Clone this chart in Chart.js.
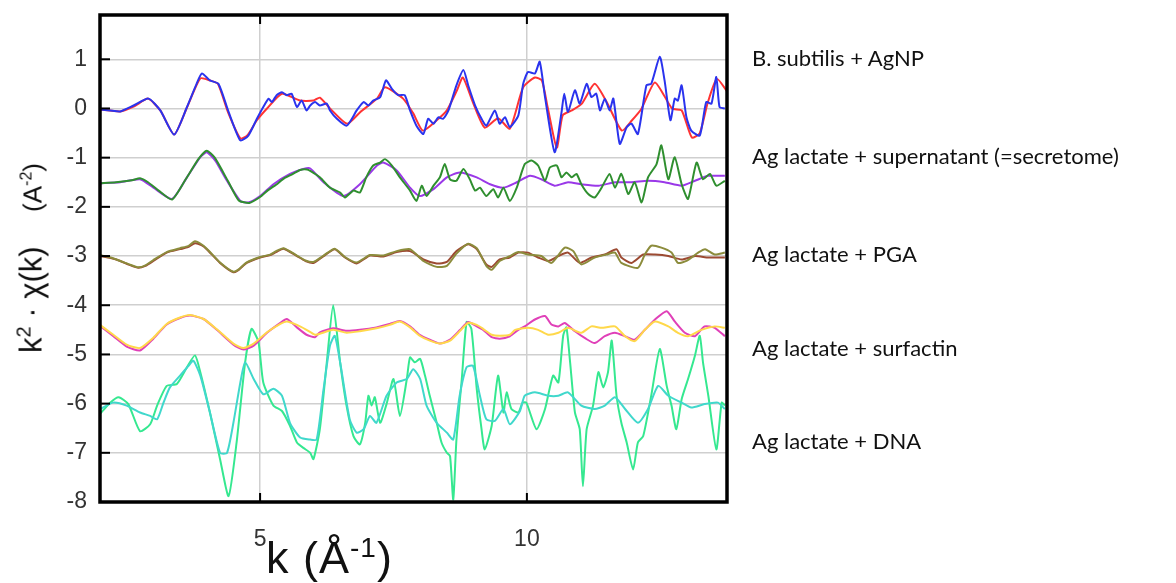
<!DOCTYPE html>
<html>
<head>
<meta charset="utf-8">
<script src="https://cdn.jsdelivr.net/npm/chart.js@4"></script>
<style>
  html, body { margin: 0; padding: 0; background: #fff; }
  #wrap { position: relative; width: 1176px; height: 583px; overflow: hidden; }
  #chart { position: absolute; left: 0; top: 0; }
  .lbl { position: absolute; left: 752px; transform: translateY(-50%); font-family: Lato, "Noto Sans", sans-serif; font-size: 22px; color: #111; white-space: nowrap; }
  .axis { position: absolute; font-family: "Liberation Sans", Arial, sans-serif; color: #111; white-space: nowrap; line-height: 1; }
  sup { line-height: 0; }
</style>
</head>
<body>
<div id="wrap">
  <canvas id="chart" width="1176" height="583"></canvas>
  <div id="labels"></div>
  <div class="axis" id="xTitle" style="left:266px; top:535px; font-size:45px; letter-spacing:1px;">k (Å<sup style="font-size:28px;">-1</sup>)</div>
  <div class="axis" id="yTitle" style="left:31px; top:258px; transform: translate(-50%, -50%) rotate(-90deg); font-size:31px;">k<sup style="font-size:20px;">2</sup> · χ(k)&nbsp;&nbsp;&nbsp;&nbsp;<span style="font-size:26px;">(A<sup style="font-size:16px;">-2</sup>)</span></div>
</div>
<script>
// axis ranges and ticks
const xMin = 2.0, xMax = 13.75;
const yMin = -8, yMax = 1.9;
const xTicks = [5, 10];
const yTicks = [-8, -7, -6, -5, -4, -3, -2, -1, 0, 1];

// sample names, top to bottom
const sampleLabels = [
    'B. subtilis + AgNP',
    'Ag lactate + supernatant (=secretome)',
    'Ag lactate + PGA',
    'Ag lactate + surfactin',
    'Ag lactate + DNA'
];
const labelY = [57, 155, 253, 347, 440];

// B. subtilis + AgNP: data (blue) and fit (red)
const agnpData = [[2.0,-0.02],[2.19,-0.04],[2.38,-0.06],[2.63,0.06],[2.91,0.2],[3.13,-0.04],[3.39,-0.53],[3.63,0.03],[3.81,0.5],[3.91,0.71],[4.06,0.57],[4.22,0.5],[4.41,-0.07],[4.63,-0.65],[4.78,-0.55],[4.94,-0.21],[5.06,0.03],[5.16,0.2],[5.22,0.13],[5.31,0.27],[5.41,0.33],[5.5,0.27],[5.59,0.3],[5.69,0.03],[5.78,0.16],[5.87,-0.04],[5.94,0.06],[6.03,0.13],[6.12,0.06],[6.25,0.1],[6.31,-0.04],[6.44,-0.21],[6.62,-0.35],[6.72,-0.21],[6.81,-0.04],[6.94,0.13],[7.03,0.06],[7.12,0.16],[7.25,0.23],[7.36,0.57],[7.47,0.4],[7.59,0.27],[7.71,0.27],[7.81,-0.04],[7.93,-0.35],[8.06,-0.52],[8.15,-0.21],[8.25,-0.31],[8.34,-0.18],[8.43,-0.21],[8.53,-0.04],[8.68,0.47],[8.81,0.78],[8.9,0.47],[9.03,0.06],[9.15,-0.21],[9.24,-0.35],[9.4,-0.04],[9.49,-0.31],[9.59,-0.18],[9.68,-0.38],[9.84,-0.14],[9.93,0.5],[10.02,0.74],[10.15,0.71],[10.24,0.95],[10.34,0.23],[10.52,-0.89],[10.65,-0.07],[10.7,0.3],[10.77,-0.07],[10.9,0.37],[10.99,0.1],[11.12,0.5],[11.21,0.23],[11.3,0.3],[11.37,-0.04],[11.46,0.2],[11.55,-0.04],[11.62,0.2],[11.74,-0.72],[11.87,-0.38],[11.96,-0.31],[12.08,-0.52],[12.24,0.47],[12.33,0.5],[12.49,1.05],[12.58,0.57],[12.69,-0.24],[12.77,0.2],[12.83,0.16],[12.9,0.47],[12.99,-0.18],[13.08,-0.45],[13.24,-0.55],[13.36,0.13],[13.46,0.1],[13.55,0.64],[13.61,0.03],[13.71,0.0]];
const agnpFit = [[2.0,-0.02],[2.38,-0.06],[2.65,0.05],[2.9,0.2],[3.13,-0.04],[3.39,-0.53],[3.63,0.02],[3.88,0.61],[4.06,0.57],[4.21,0.5],[4.4,-0.08],[4.63,-0.61],[4.76,-0.55],[4.94,-0.24],[5.13,0.0],[5.41,0.3],[5.75,0.16],[6.0,0.16],[6.12,0.22],[6.31,0.0],[6.63,-0.31],[6.87,-0.08],[7.19,0.2],[7.34,0.43],[7.68,0.2],[7.87,-0.1],[8.05,-0.45],[8.31,-0.24],[8.5,-0.04],[8.69,0.37],[8.8,0.63],[8.99,0.12],[9.21,-0.39],[9.46,-0.2],[9.68,-0.41],[9.93,0.43],[10.15,0.63],[10.28,0.57],[10.39,0.02],[10.56,-0.8],[10.67,-0.14],[10.84,-0.04],[11.03,0.1],[11.27,0.5],[11.5,0.12],[11.78,-0.45],[11.97,-0.24],[12.15,0.0],[12.4,0.53],[12.72,0.0],[12.9,-0.04],[13.09,-0.59],[13.24,-0.5],[13.39,0.12],[13.56,0.6],[13.75,0.35]];

// Ag lactate + supernatant: data (green) and fit (purple)
const secrData = [[2.0,-1.52],[2.3,-1.5],[2.6,-1.46],[2.75,-1.42],[2.9,-1.5],[3.1,-1.67],[3.35,-1.85],[3.6,-1.45],[3.85,-1.02],[4.0,-0.86],[4.15,-1.0],[4.4,-1.48],[4.6,-1.87],[4.8,-1.92],[5.0,-1.8],[5.15,-1.66],[5.3,-1.55],[5.45,-1.42],[5.6,-1.34],[5.75,-1.25],[5.88,-1.24],[5.94,-1.27],[6.12,-1.4],[6.31,-1.61],[6.5,-1.71],[6.59,-1.81],[6.75,-1.67],[6.87,-1.71],[6.99,-1.4],[7.12,-1.16],[7.25,-1.1],[7.34,-1.03],[7.47,-1.16],[7.62,-1.4],[7.81,-1.67],[7.93,-1.88],[8.03,-1.57],[8.12,-1.78],[8.25,-1.57],[8.37,-1.4],[8.46,-1.13],[8.56,-1.44],[8.68,-1.47],[8.81,-1.23],[8.93,-1.44],[9.03,-1.67],[9.12,-1.61],[9.24,-1.78],[9.37,-1.64],[9.46,-1.81],[9.56,-1.61],[9.68,-1.88],[9.81,-1.61],[9.96,-1.13],[10.09,-1.06],[10.21,-1.16],[10.34,-1.47],[10.43,-1.2],[10.56,-1.16],[10.65,-1.4],[10.74,-1.3],[10.84,-1.4],[10.93,-1.33],[11.02,-1.54],[11.15,-1.74],[11.27,-1.81],[11.4,-1.61],[11.55,-1.33],[11.65,-1.61],[11.77,-1.33],[11.9,-1.74],[12.02,-1.5],[12.15,-1.91],[12.27,-1.4],[12.43,-1.13],[12.52,-0.75],[12.65,-1.44],[12.77,-0.99],[12.9,-1.54],[13.02,-1.84],[13.18,-1.1],[13.3,-1.44],[13.43,-1.33],[13.55,-1.57],[13.71,-1.47]];
const secrFit = [[2.0,-1.52],[2.38,-1.5],[2.75,-1.44],[3.0,-1.61],[3.35,-1.84],[3.63,-1.4],[3.88,-0.99],[4.0,-0.89],[4.16,-1.06],[4.38,-1.47],[4.63,-1.88],[4.78,-1.91],[5.0,-1.78],[5.25,-1.54],[5.56,-1.33],[5.81,-1.23],[5.94,-1.22],[6.19,-1.5],[6.56,-1.78],[6.87,-1.54],[7.19,-1.16],[7.31,-1.1],[7.56,-1.26],[7.81,-1.61],[7.99,-1.78],[8.25,-1.64],[8.5,-1.4],[8.74,-1.3],[9.06,-1.4],[9.31,-1.54],[9.56,-1.61],[9.81,-1.5],[10.06,-1.37],[10.27,-1.44],[10.52,-1.57],[10.77,-1.5],[11.02,-1.54],[11.34,-1.57],[11.65,-1.5],[11.96,-1.5],[12.27,-1.47],[12.58,-1.5],[12.9,-1.57],[13.15,-1.47],[13.4,-1.37],[13.71,-1.37]];

// Ag lactate + PGA: data (olive) and fit (brown)
const pgaData = [[2.0,-2.98],[2.2,-3.03],[2.38,-3.1],[2.55,-3.17],[2.72,-3.23],[2.85,-3.19],[3.0,-3.08],[3.25,-2.92],[3.5,-2.84],[3.65,-2.8],[3.78,-2.7],[3.9,-2.76],[4.0,-2.85],[4.25,-3.13],[4.5,-3.32],[4.6,-3.27],[4.75,-3.13],[5.0,-3.02],[5.19,-2.97],[5.3,-2.9],[5.44,-2.84],[5.69,-2.99],[5.85,-3.09],[6.0,-3.12],[6.19,-2.99],[6.4,-2.85],[6.59,-3.02],[6.81,-3.13],[7.06,-2.98],[7.31,-2.99],[7.56,-2.9],[7.81,-2.86],[8.06,-3.1],[8.31,-3.22],[8.5,-3.2],[8.68,-2.95],[8.9,-2.75],[9.06,-2.84],[9.24,-3.2],[9.34,-3.28],[9.49,-3.1],[9.68,-3.0],[9.84,-2.92],[10.02,-2.97],[10.27,-3.0],[10.46,-3.14],[10.71,-2.83],[10.87,-2.9],[11.02,-3.17],[11.27,-3.03],[11.49,-2.97],[11.65,-2.93],[11.77,-3.14],[12.08,-3.24],[12.21,-2.97],[12.33,-2.79],[12.52,-2.83],[12.71,-2.93],[12.83,-3.14],[12.99,-3.1],[13.21,-2.93],[13.34,-2.86],[13.52,-2.97],[13.71,-2.93]];
const pgaFit = [[2.0,-3.0],[2.2,-3.04],[2.38,-3.1],[2.55,-3.18],[2.72,-3.24],[2.85,-3.2],[3.0,-3.1],[3.25,-2.93],[3.5,-2.86],[3.65,-2.82],[3.78,-2.74],[3.9,-2.78],[4.0,-2.86],[4.25,-3.14],[4.5,-3.33],[4.6,-3.28],[4.75,-3.14],[5.0,-3.03],[5.19,-2.98],[5.3,-2.92],[5.44,-2.85],[5.69,-3.0],[5.85,-3.1],[6.0,-3.14],[6.19,-3.0],[6.4,-2.86],[6.59,-3.03],[6.81,-3.15],[7.06,-2.99],[7.31,-3.01],[7.56,-2.92],[7.81,-2.9],[8.06,-3.07],[8.31,-3.15],[8.5,-3.12],[8.68,-2.9],[8.9,-2.76],[9.06,-2.86],[9.24,-3.17],[9.34,-3.22],[9.49,-3.07],[9.68,-3.03],[9.84,-2.93],[10.02,-2.93],[10.21,-3.03],[10.4,-3.1],[10.59,-3.0],[10.77,-2.93],[10.99,-3.14],[11.21,-3.03],[11.46,-2.97],[11.68,-2.86],[11.77,-3.03],[11.96,-3.14],[12.18,-2.97],[12.4,-2.97],[12.65,-3.0],[12.9,-3.07],[13.15,-3.0],[13.4,-3.03],[13.71,-3.03]];

// Ag lactate + surfactin: data (magenta) and fit (yellow)
const surfData = [[2.0,-4.42],[2.25,-4.63],[2.5,-4.84],[2.75,-4.92],[3.0,-4.68],[3.25,-4.39],[3.5,-4.26],[3.69,-4.21],[3.94,-4.28],[4.19,-4.5],[4.5,-4.8],[4.69,-4.9],[4.88,-4.82],[5.13,-4.56],[5.38,-4.36],[5.5,-4.28],[5.69,-4.45],[5.87,-4.6],[6.03,-4.65],[6.12,-4.55],[6.37,-4.47],[6.62,-4.52],[6.87,-4.5],[7.18,-4.45],[7.43,-4.38],[7.62,-4.32],[7.81,-4.43],[7.99,-4.6],[8.18,-4.7],[8.37,-4.78],[8.56,-4.7],[8.75,-4.5],[8.9,-4.34],[9.06,-4.43],[9.18,-4.5],[9.34,-4.65],[9.49,-4.68],[9.68,-4.63],[9.84,-4.5],[9.96,-4.43],[10.15,-4.29],[10.34,-4.22],[10.46,-4.39],[10.59,-4.43],[10.71,-4.36],[10.9,-4.53],[11.09,-4.67],[11.27,-4.77],[11.46,-4.63],[11.65,-4.56],[11.84,-4.63],[12.02,-4.7],[12.21,-4.5],[12.4,-4.29],[12.62,-4.12],[12.77,-4.33],[12.96,-4.56],[13.15,-4.63],[13.33,-4.43],[13.52,-4.46],[13.71,-4.63]];
const surfFit = [[2.0,-4.4],[2.25,-4.6],[2.5,-4.8],[2.75,-4.87],[3.0,-4.66],[3.25,-4.38],[3.5,-4.25],[3.69,-4.2],[3.94,-4.28],[4.19,-4.49],[4.5,-4.78],[4.69,-4.87],[4.88,-4.78],[5.13,-4.55],[5.38,-4.38],[5.5,-4.33],[5.69,-4.4],[5.87,-4.5],[6.03,-4.6],[6.12,-4.58],[6.37,-4.5],[6.62,-4.56],[6.87,-4.53],[7.18,-4.47],[7.43,-4.4],[7.62,-4.33],[7.81,-4.45],[7.99,-4.62],[8.18,-4.72],[8.37,-4.78],[8.56,-4.72],[8.75,-4.52],[8.9,-4.36],[9.06,-4.4],[9.18,-4.48],[9.34,-4.6],[9.49,-4.62],[9.68,-4.6],[9.78,-4.5],[10.02,-4.46],[10.21,-4.5],[10.4,-4.6],[10.59,-4.56],[10.77,-4.46],[11.02,-4.56],[11.21,-4.43],[11.4,-4.46],[11.65,-4.43],[11.84,-4.63],[12.02,-4.73],[12.21,-4.5],[12.4,-4.33],[12.65,-4.43],[12.83,-4.56],[13.02,-4.63],[13.27,-4.5],[13.52,-4.43],[13.71,-4.46]];

// Ag lactate + DNA: data (spring green) and fit (turquoise)
const dnaData = [[2.0,-6.21],[2.19,-5.98],[2.35,-5.87],[2.53,-6.01],[2.75,-6.56],[2.94,-6.42],[3.07,-6.04],[3.25,-5.64],[3.44,-5.6],[3.63,-5.26],[3.78,-5.02],[3.88,-5.36],[4.06,-6.18],[4.25,-7.13],[4.41,-7.88],[4.56,-6.79],[4.72,-5.16],[4.84,-4.48],[4.97,-4.75],[5.06,-5.57],[5.25,-6.04],[5.41,-6.15],[5.56,-6.45],[5.69,-6.79],[5.81,-6.9],[5.94,-7.0],[6.0,-7.13],[6.12,-6.52],[6.25,-5.16],[6.37,-4.0],[6.5,-5.16],[6.62,-6.04],[6.75,-6.66],[6.87,-6.83],[6.97,-6.39],[7.03,-5.84],[7.09,-6.04],[7.15,-5.87],[7.25,-6.39],[7.37,-6.01],[7.5,-5.5],[7.62,-6.25],[7.75,-5.5],[7.81,-5.06],[7.9,-5.16],[8.0,-5.09],[8.09,-5.43],[8.18,-5.84],[8.31,-6.39],[8.4,-6.79],[8.5,-7.0],[8.56,-7.07],[8.62,-7.95],[8.68,-6.73],[8.78,-5.5],[8.87,-4.34],[8.96,-4.48],[9.06,-5.7],[9.15,-6.52],[9.21,-6.93],[9.34,-6.45],[9.46,-5.43],[9.56,-6.18],[9.62,-5.77],[9.71,-6.11],[9.84,-6.18],[9.92,-5.98],[9.99,-5.98],[10.18,-6.52],[10.34,-6.11],[10.49,-5.43],[10.59,-5.57],[10.68,-4.62],[10.74,-4.45],[10.81,-5.16],[10.9,-6.18],[10.99,-6.52],[11.05,-7.68],[11.12,-6.52],[11.24,-6.04],[11.34,-5.36],[11.43,-5.67],[11.52,-5.36],[11.59,-4.72],[11.68,-5.84],[11.77,-6.39],[11.87,-6.79],[11.99,-7.34],[12.08,-6.79],[12.18,-6.66],[12.33,-5.84],[12.49,-4.89],[12.62,-5.64],[12.71,-6.04],[12.8,-6.52],[12.9,-5.91],[13.02,-5.5],[13.15,-5.02],[13.24,-4.62],[13.3,-5.16],[13.4,-5.84],[13.55,-6.93],[13.65,-5.98],[13.71,-6.04]];
const dnaFit = [[2.0,-6.11],[2.25,-5.98],[2.5,-6.04],[2.75,-6.18],[2.94,-6.25],[3.07,-6.32],[3.19,-5.98],[3.31,-5.67],[3.5,-5.43],[3.66,-5.23],[3.75,-5.13],[3.88,-5.43],[4.06,-6.18],[4.25,-7.0],[4.38,-7.0],[4.5,-6.39],[4.63,-5.57],[4.72,-5.16],[4.88,-5.5],[5.06,-5.81],[5.25,-5.7],[5.41,-5.84],[5.56,-6.39],[5.75,-6.69],[5.94,-6.73],[6.06,-6.73],[6.19,-5.7],[6.31,-4.82],[6.4,-4.62],[6.5,-5.16],[6.68,-6.32],[6.81,-6.59],[6.94,-6.52],[7.06,-6.25],[7.18,-6.39],[7.37,-5.84],[7.56,-5.57],[7.75,-5.5],[7.87,-5.3],[8.0,-5.5],[8.12,-6.04],[8.31,-6.39],[8.5,-6.59],[8.62,-6.73],[8.74,-5.84],[8.87,-5.26],[8.99,-5.23],[9.12,-5.84],[9.24,-6.32],[9.4,-6.35],[9.56,-6.11],[9.68,-6.42],[9.87,-6.15],[9.96,-5.84],[10.15,-5.77],[10.4,-5.84],[10.59,-5.84],[10.77,-5.77],[11.02,-6.04],[11.27,-6.11],[11.46,-6.04],[11.65,-5.87],[11.84,-6.11],[12.08,-6.39],[12.27,-6.11],[12.46,-5.64],[12.65,-5.84],[12.9,-5.98],[13.08,-6.08],[13.33,-6.01],[13.58,-5.98],[13.71,-6.11]];

function toPoints(pairs) {
    return pairs.map(p => ({ x: p[0], y: p[1] }));
}

function line(pairs, color) {
    return {
        data: toPoints(pairs),
        borderColor: color,
        borderWidth: 2,
        pointRadius: 0,
        tension: 0.2,
        fill: false
    };
}

const datasets = [
    line(agnpData, '#2a33ee'),
    line(agnpFit, '#ff3333'),
    line(secrData, '#2f8f2f'),
    line(secrFit, '#9a38e8'),
    line(pgaData, '#8c8c3c'),
    line(pgaFit, '#9c4a32'),
    line(surfFit, '#ffd84a'),
    line(surfData, '#e040b8'),
    line(dnaFit, '#40d8cc'),
    line(dnaData, '#35e890')
];

// thick frame and inner tick marks
const framePlugin = {
    id: 'frame',
    afterDraw(chart) {
        const { ctx, chartArea: a, scales } = chart;
        ctx.save();
        ctx.strokeStyle = '#000';
        ctx.lineWidth = 2;
        yTicks.forEach(v => {
            const y = scales.y.getPixelForValue(v);
            ctx.beginPath();
            ctx.moveTo(a.left, y);
            ctx.lineTo(a.left + 10, y);
            ctx.stroke();
        });
        xTicks.forEach(v => {
            const x = scales.x.getPixelForValue(v);
            ctx.beginPath();
            ctx.moveTo(x, a.bottom);
            ctx.lineTo(x, a.bottom - 9);
            ctx.moveTo(x, a.top);
            ctx.lineTo(x, a.top + 9);
            ctx.stroke();
        });
        ctx.lineWidth = 3.5;
        ctx.strokeRect(a.left, a.top, a.right - a.left, a.bottom - a.top);
        ctx.restore();
    }
};

const tickFont = { family: '"Liberation Sans", Arial, sans-serif', size: 23 };

new Chart(document.getElementById('chart'), {
    type: 'line',
    data: { datasets: datasets },
    options: {
        responsive: false,
        animation: false,
        layout: { padding: { left: 0, right: 449, top: 15, bottom: 0 } },
        plugins: { legend: { display: false }, tooltip: { enabled: false } },
        scales: {
            x: {
                type: 'linear',
                min: xMin,
                max: xMax,
                afterBuildTicks: s => { s.ticks = xTicks.map(v => ({ value: v })); },
                afterFit: s => { s.height = 81; s.paddingLeft = 0; s.paddingRight = 0; },
                grid: { color: '#cfcfcf', lineWidth: 1.5, drawTicks: false },
                border: { display: false },
                ticks: { padding: 24, color: '#333', font: tickFont }
            },
            y: {
                type: 'linear',
                min: yMin,
                max: yMax,
                afterBuildTicks: s => { s.ticks = yTicks.map(v => ({ value: v })); },
                afterFit: s => { s.width = 100; s.paddingTop = 0; s.paddingBottom = 0; },
                grid: { color: '#cfcfcf', lineWidth: 1.5, drawTicks: false },
                border: { display: false },
                ticks: { padding: 13, color: '#333', font: tickFont }
            }
        }
    },
    plugins: [framePlugin]
});

// sample labels on the right
const labelBox = document.getElementById('labels');
sampleLabels.forEach((t, i) => {
    const d = document.createElement('div');
    d.className = 'lbl';
    d.style.top = labelY[i] + 'px';
    d.textContent = t;
    labelBox.appendChild(d);
});
</script>
</body>
</html>
